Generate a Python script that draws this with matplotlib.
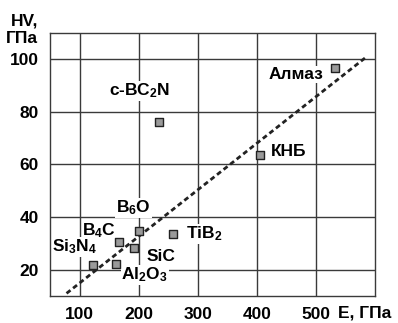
import matplotlib
matplotlib.use("Agg")
import matplotlib.pyplot as plt

plt.rcParams["font.family"] = ["Liberation Sans", "DejaVu Sans"]
plt.rcParams["font.weight"] = "bold"
plt.rcParams["mathtext.fontset"] = "custom"
plt.rcParams["mathtext.rm"] = "Liberation Sans:bold"
plt.rcParams["mathtext.it"] = "Liberation Sans:bold"
plt.rcParams["mathtext.bf"] = "Liberation Sans:bold"
plt.rcParams["mathtext.default"] = "rm"

# ── данные ──────────────────────────────────────
materials = ["c-BC$_2$N", "Алмаз", "КНБ", "B$_6$O", "TiB$_2$",
             "B$_4$C", "SiC", "Si$_3$N$_4$", "Al$_2$O$_3$"]
E_gpa = [235, 532, 405, 200, 258, 167, 193, 122, 161]
HV_gpa = [76.3, 96.6, 63.7, 34.7, 33.6, 30.5, 28.2, 21.8, 22.1]

# положения подписей (x, y, выравнивание)
label_pos = [(150, 88, "left"), (513, 94.3, "right"), (424, 64.9, "left"),
             (162, 43.5, "left"), (280, 33.6, "left"), (105, 35, "left"),
             (213, 25.2, "left"), (53, 28.6, "left"), (171, 18, "left")]

# линия тренда (концы)
trend_E = [78, 586]
trend_HV = [11, 101]

x_ticks = [100, 200, 300, 400, 500]
y_ticks = [20, 40, 60, 80, 100]

FS = 12.5

fig = plt.figure(figsize=(3.98, 3.23), dpi=100)
ax = fig.add_axes([0.1256, 0.0836, 0.8166, 0.8143])

ax.set_xlim(50, 600)
ax.set_ylim(10, 110)
ax.set_xticks(x_ticks)
ax.set_yticks(y_ticks)
ax.grid(True, color="#3a3a3a", linewidth=1.0)
ax.set_axisbelow(True)
for s in ax.spines.values():
    s.set_color("#3a3a3a")
    s.set_linewidth(1.0)
ax.tick_params(length=0, labelsize=FS, pad=8)
for lab in ax.get_xticklabels() + ax.get_yticklabels():
    lab.set_fontweight("bold")

ax.plot(trend_E, trend_HV, color="#222222", linewidth=2.0,
        linestyle=(0, (1.8, 1.2)), zorder=3)

ax.scatter(E_gpa, HV_gpa, marker="s", s=36, facecolor="#9a9a9a",
           edgecolor="#222222", linewidth=1.0, zorder=4)

for name, (lx, ly, ha) in zip(materials, label_pos):
    ax.text(lx, ly, name, ha=ha, va="center", fontsize=FS, fontweight="bold",
            zorder=2,
            bbox=dict(boxstyle="square,pad=0.05", facecolor="white",
                      edgecolor="none"))

ax.text(-0.037, 1.075, "HV,\nГПа", transform=ax.transAxes, ha="right",
        va="top", fontsize=FS, fontweight="bold", linespacing=1.2)
ax.text(537, -0.038, "E, ГПа", transform=ax.get_xaxis_transform(),
        ha="left", va="top", fontsize=FS, fontweight="bold")

fig.savefig("out.png", dpi=100)
